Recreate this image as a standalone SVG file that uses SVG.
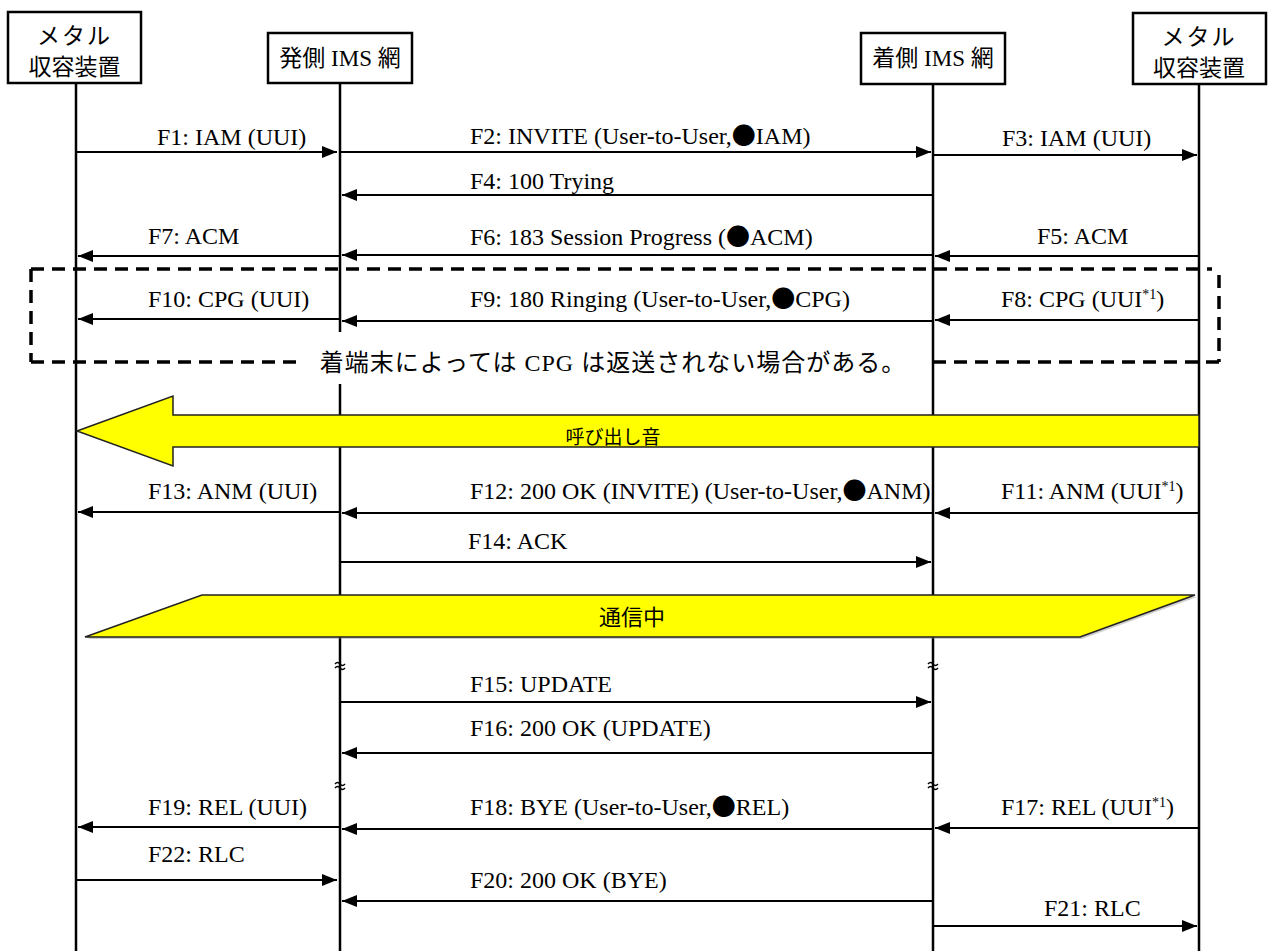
<svg xmlns="http://www.w3.org/2000/svg" width="1268" height="951" viewBox="0 0 1268 951">
<style>
.box{fill:#fff;stroke:#000;stroke-width:2.5}
.life{stroke:#000;stroke-width:2.5;fill:none}
.msg{stroke:#000;stroke-width:2;fill:none;marker-end:url(#ah)}
.lbl{font-family:"Liberation Serif","Noto Sans CJK JP",serif;font-size:24px;fill:#000}
.hd{font-family:"Liberation Serif","Noto Sans CJK JP",serif;font-size:23px;fill:#000;text-anchor:middle}
.dash{stroke:#000;stroke-width:3.5;fill:none;stroke-dasharray:13 8}
.band{fill:#ffff00;stroke:#222;stroke-width:1.5}
.bandtxt{font-family:"Noto Sans CJK JP",sans-serif;fill:#000;text-anchor:middle}
.brk{stroke:#000;stroke-width:1.4;fill:none}
.sup{font-size:14px}
.dot{font-family:"Noto Sans CJK JP",sans-serif}
</style>
<defs>
<marker id="ah" markerUnits="userSpaceOnUse" markerWidth="16" markerHeight="13" refX="15" refY="6" orient="auto">
<path d="M0,0 L15,6 L0,12 z" fill="#000"/>
</marker>
</defs>

<g id="lifelines">
<line class="life" x1="76" y1="83" x2="76" y2="951"/>
<line class="life" x1="340" y1="83" x2="340" y2="951"/>
<line class="life" x1="933" y1="84" x2="933" y2="951"/>
<line class="life" x1="1199" y1="84" x2="1199" y2="951"/>
</g>

<g id="node-metal-left">
<rect class="box" x="8" y="12" width="133" height="71"/>
<text class="hd" x="74.5" y="44" letter-spacing="2">メタル</text>
<text class="hd" x="74.5" y="75">収容装置</text>
</g>
<g id="node-orig-ims">
<rect class="box" x="268" y="33" width="144" height="50"/>
<text class="hd" x="340" y="66">発側 IMS 網</text>
</g>
<g id="node-term-ims">
<rect class="box" x="861" y="33" width="144" height="51"/>
<text class="hd" x="933" y="66">着側 IMS 網</text>
</g>
<g id="node-metal-right">
<rect class="box" x="1133" y="13" width="133" height="71"/>
<text class="hd" x="1199" y="45" letter-spacing="2">メタル</text>
<text class="hd" x="1199" y="76">収容装置</text>
</g>

<g id="optional-box">
<rect x="300" y="332" width="626" height="52" fill="#fff"/>
<path class="dash" d="M31,269 H1212"/>
<path class="dash" d="M31,269 V362"/>
<path class="dash" d="M1219,275 V362"/>
<path class="dash" d="M31,362 H298"/>
<path class="dash" d="M1219,362 H928"/>
<text class="lbl" x="613" y="371" text-anchor="middle" font-size="25" letter-spacing="1">着端末によっては CPG は返送されない場合がある。</text>
</g>

<g id="ringing">
<path class="band" d="M77,431 L173,396 L173,415 L1199,415 L1199,447 L173,447 L173,466 Z"/>
<text class="bandtxt" x="613" y="444" font-size="19">呼び出し音</text>
</g>

<g id="in-call">
<path d="M87,639 L204,597 L1197,597 L1082,639 Z" fill="#888" opacity="0.4"/>
<path class="band" d="M85,637 L202,595 L1195,595 L1080,637 Z"/>
<text class="bandtxt" x="632" y="625" font-size="22">通信中</text>
</g>

<g id="breaks">
<path class="brk" d="M335,664 q2.5,-3 5,0 t5,0 M335,668 q2.5,-3 5,0 t5,0"/>
<path class="brk" d="M928,664 q2.5,-3 5,0 t5,0 M928,668 q2.5,-3 5,0 t5,0"/>
<path class="brk" d="M335,784 q2.5,-3 5,0 t5,0 M335,788 q2.5,-3 5,0 t5,0"/>
<path class="brk" d="M928,784 q2.5,-3 5,0 t5,0 M928,788 q2.5,-3 5,0 t5,0"/>
</g>

<g id="connectors">
<line class="msg" x1="77" y1="152" x2="337" y2="152"/>
<line class="msg" x1="341" y1="152" x2="931" y2="152"/>
<line class="msg" x1="934" y1="155" x2="1197" y2="155"/>
<line class="msg" x1="932" y1="195" x2="342" y2="195"/>
<line class="msg" x1="1198" y1="256" x2="935" y2="256"/>
<line class="msg" x1="932" y1="255" x2="342" y2="255"/>
<line class="msg" x1="339" y1="256" x2="78" y2="256"/>
<line class="msg" x1="1198" y1="320" x2="935" y2="320"/>
<line class="msg" x1="932" y1="321" x2="342" y2="321"/>
<line class="msg" x1="339" y1="319" x2="78" y2="319"/>
<line class="msg" x1="1198" y1="513" x2="935" y2="513"/>
<line class="msg" x1="932" y1="513" x2="342" y2="513"/>
<line class="msg" x1="339" y1="512" x2="78" y2="512"/>
<line class="msg" x1="341" y1="562" x2="931" y2="562"/>
<line class="msg" x1="341" y1="702" x2="931" y2="702"/>
<line class="msg" x1="932" y1="753" x2="342" y2="753"/>
<line class="msg" x1="1198" y1="828" x2="935" y2="828"/>
<line class="msg" x1="932" y1="829" x2="342" y2="829"/>
<line class="msg" x1="339" y1="827" x2="78" y2="827"/>
<line class="msg" x1="77" y1="880" x2="337" y2="880"/>
<line class="msg" x1="932" y1="901" x2="342" y2="901"/>
<line class="msg" x1="934" y1="926" x2="1197" y2="926"/>
</g>

<g id="labels">
<text class="lbl" x="157" y="145">F1: IAM (UUI)</text>
<text class="lbl" x="470" y="144">F2: INVITE (User-to-User,<tspan class="dot">●</tspan>IAM)</text>
<text class="lbl" x="1002" y="146">F3: IAM (UUI)</text>
<text class="lbl" x="470" y="189">F4: 100 Trying</text>
<text class="lbl" x="1037" y="244">F5: ACM</text>
<text class="lbl" x="470" y="245">F6: 183 Session Progress (<tspan class="dot">●</tspan>ACM)</text>
<text class="lbl" x="148" y="244">F7: ACM</text>
<text class="lbl" x="1001" y="307">F8: CPG (UUI<tspan class="sup" dy="-8">*1</tspan><tspan dy="8">)</tspan></text>
<text class="lbl" x="470" y="307">F9: 180 Ringing (User-to-User,<tspan class="dot">●</tspan>CPG)</text>
<text class="lbl" x="148" y="307">F10: CPG (UUI)</text>
<text class="lbl" x="1001" y="499">F11: ANM (UUI<tspan class="sup" dy="-8">*1</tspan><tspan dy="8">)</tspan></text>
<text class="lbl" x="470" y="499">F12: 200 OK (INVITE) (User-to-User,<tspan class="dot">●</tspan>ANM)</text>
<text class="lbl" x="148" y="499">F13: ANM (UUI)</text>
<text class="lbl" x="468" y="549">F14: ACK</text>
<text class="lbl" x="470" y="692">F15: UPDATE</text>
<text class="lbl" x="470" y="736">F16: 200 OK (UPDATE)</text>
<text class="lbl" x="1001" y="815">F17: REL (UUI<tspan class="sup" dy="-8">*1</tspan><tspan dy="8">)</tspan></text>
<text class="lbl" x="470" y="815">F18: BYE (User-to-User,<tspan class="dot">●</tspan>REL)</text>
<text class="lbl" x="148" y="815">F19: REL (UUI)</text>
<text class="lbl" x="148" y="862">F22: RLC</text>
<text class="lbl" x="470" y="888">F20: 200 OK (BYE)</text>
<text class="lbl" x="1044" y="916">F21: RLC</text>
</g>
</svg>
